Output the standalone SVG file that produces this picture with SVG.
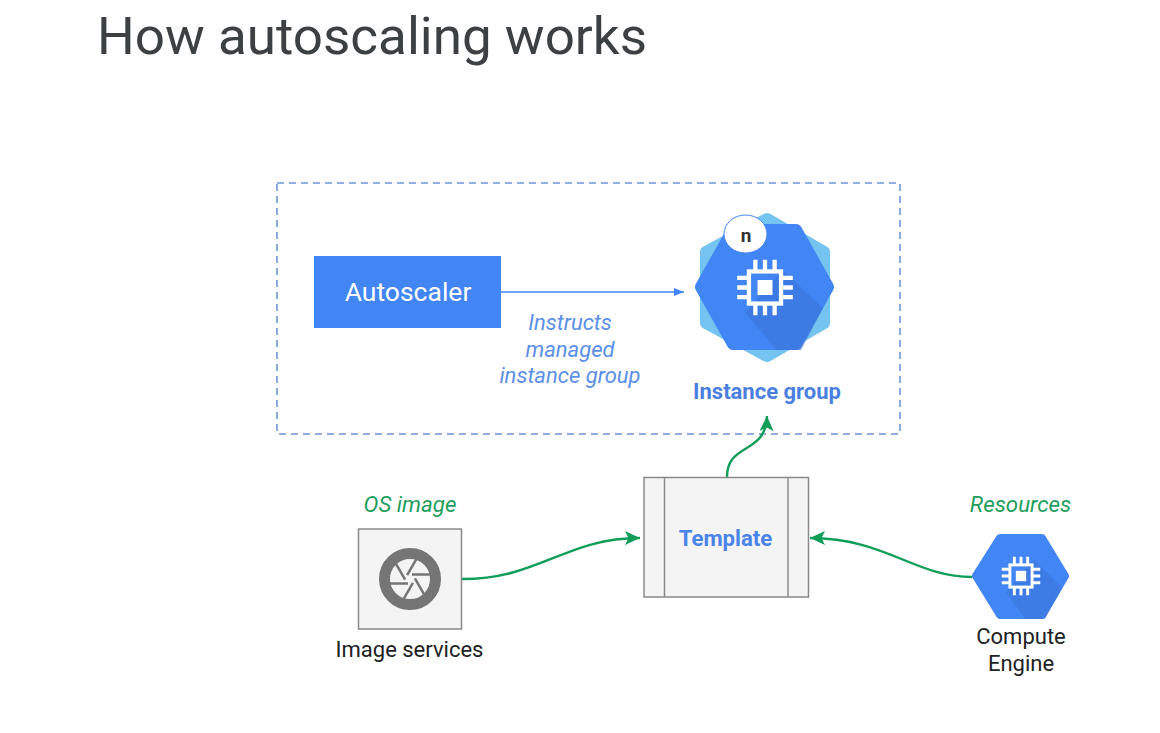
<svg xmlns="http://www.w3.org/2000/svg" width="1160" height="733" viewBox="0 0 1160 733">
<style>
text{font-family:Roboto,"Liberation Sans",sans-serif}
.c{text-anchor:middle}
.box{fill:#f4f4f4;stroke:#8a8a8a;stroke-width:1.5}
.lbl{font-size:22px;fill:#202124}
.gi{font-size:22.3px;font-style:italic;fill:#1e9e5e}
.bi{font-size:22px;font-style:italic;fill:#5c8fe8}
.conn{fill:none;stroke:#0f9d58;stroke-width:2.4}
.chip{fill:none;stroke:#fff}
</style>
<defs>
<marker id="ga" markerUnits="userSpaceOnUse" markerWidth="18" markerHeight="16" refX="15" refY="7" orient="auto"><path d="M0 0L15 7L0 14L3.500 7Z" fill="#0f9d58"/></marker>
<marker id="ba" markerUnits="userSpaceOnUse" markerWidth="12" markerHeight="10" refX="10" refY="4" orient="auto"><path d="M0 0L10 4L0 8Z" fill="#4285f4"/></marker>
<g id="chip">
<rect x="-15" y="-15" width="30" height="30" class="chip" stroke-width="4"/>
<rect x="-7" y="-7" width="14" height="14" fill="#fff"/>
<path d="M-9-26V-16M0-26V-16M9-26V-16M-9 16V26M0 16V26M9 16V26M-26-9H-16M-26 0H-16M-26 9H-16M16-9H26M16 0H26M16 9H26" class="chip" stroke-width="4"/>
</g>
<clipPath id="ighex"><path d="M728 224H801L834 287L801 350H728L695 287Z"/></clipPath>
<clipPath id="cehex"><path d="M997 534H1045L1069 576L1045 619H997L972 576Z"/></clipPath>
<path id="blade" d="M2-4.500L21-4.500" fill="none" stroke="#757575" stroke-width="2.500"/>
</defs>
<rect width="1160" height="733" fill="#fff"/>
<text id="title" x="97" y="54" font-size="52" fill="#3c4043" textLength="550" lengthAdjust="spacingAndGlyphs">How autoscaling works</text>
<rect id="frame" x="277" y="183" width="623" height="251" fill="none" stroke="#6f93d8" stroke-width="1.6" stroke-dasharray="7 5"/>
<g id="connectors">
<path d="M501 292H684" fill="none" stroke="#4285f4" stroke-width="1.500" marker-end="url(#ba)"/>
<path class="conn" d="M462 579C540 579 565 538 640 538" marker-end="url(#ga)"/>
<path class="conn" d="M972 577C915 577 885 538 810 538" marker-end="url(#ga)"/>
<path class="conn" d="M727 477C727 442 766 455 767 416" marker-end="url(#ga)"/>
</g>
<g id="autoscaler">
<rect x="314" y="256" width="187" height="72" fill="#4285f4"/>
<text class="c" x="408" y="301" font-size="26.500" fill="#fff">Autoscaler</text>
</g>
<g id="edge-label">
<text class="c bi" x="570" y="330">Instructs</text>
<text class="c bi" x="570" y="357">managed</text>
<text class="c bi" x="570" y="383">instance group</text>
</g>
<g id="instance-group">
<path d="M767 219L824 252V323L767 356L706 323V252Z" fill="#74c3f0" stroke="#74c3f0" stroke-width="12" stroke-linejoin="round"/>
<path d="M733 230H796L828 287L796 344H733L701 287Z" fill="#4285f4" stroke="#4285f4" stroke-width="12" stroke-linejoin="round"/>
<path d="M783 270L840 325V360H785L745 313Z" fill="#3a74d8" opacity=".6" clip-path="url(#ighex)"/>
<use href="#chip" transform="translate(765 287.500) scale(1.07)"/>
<ellipse cx="745.500" cy="234" rx="21.500" ry="19" fill="#fff" stroke="#4285f4" stroke-width="1"/>
<text class="c" x="746" y="242" font-size="19" font-weight="700" fill="#333">n</text>
<text class="c" x="767" y="399" font-size="22" font-weight="700" fill="#4a7fe0">Instance group</text>
</g>
<g id="template">
<rect class="box" x="644" y="477.500" width="164.500" height="119.500"/>
<path d="M664.500 477.500V597M788 477.500V597" fill="none" stroke="#8a8a8a" stroke-width="1.500"/>
<text class="c" x="725.500" y="546" font-size="22.200" font-weight="700" fill="#4a84e8">Template</text>
</g>
<g id="image-services">
<text class="c gi" x="410" y="512">OS image</text>
<rect class="box" x="358.500" y="529" width="103" height="100"/>
<circle cx="410" cy="579" r="25.500" fill="none" stroke="#757575" stroke-width="11"/>
<g transform="translate(410 579)">
<use href="#blade"/>
<use href="#blade" transform="rotate(60)"/>
<use href="#blade" transform="rotate(120)"/>
<use href="#blade" transform="rotate(180)"/>
<use href="#blade" transform="rotate(240)"/>
<use href="#blade" transform="rotate(300)"/>
</g>
<text class="c lbl" x="409.500" y="657">Image services</text>
</g>
<g id="compute-engine">
<text class="c gi" x="1020.500" y="512">Resources</text>
<path d="M1000 538H1042L1065 576L1042 615H1000L976 576Z" fill="#4285f4" stroke="#4285f4" stroke-width="8" stroke-linejoin="round"/>
<path d="M1034 560L1075 600V625H1030L1006 592Z" fill="#3a74d8" opacity=".55" clip-path="url(#cehex)"/>
<use href="#chip" transform="translate(1021 576) scale(.74)"/>
<text class="c lbl" x="1021" y="644">Compute</text>
<text class="c lbl" x="1021" y="671">Engine</text>
</g>
</svg>
